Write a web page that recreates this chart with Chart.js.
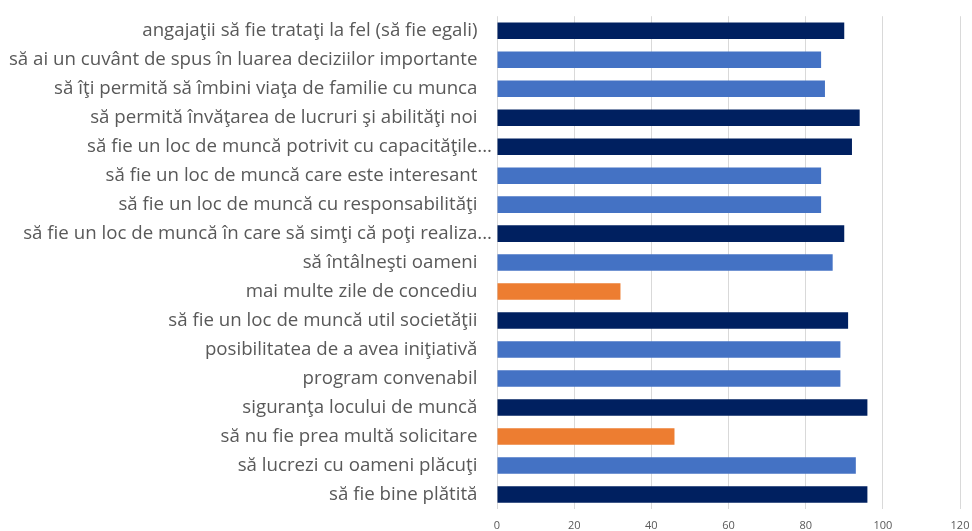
<!DOCTYPE html>
<html>
<head>
<meta charset="utf-8">
<script src="https://cdn.jsdelivr.net/npm/chart.js@4"></script>
<style>
  html, body { margin: 0; padding: 0; background: #fff; }
  #wrap { width: 972px; height: 531px; }
</style>
</head>
<body>
<div id="wrap"><canvas id="grafic"></canvas></div>
<script>
const categorii = [
  'angajaţii să fie trataţi la fel (să fie egali)   ',
  'să ai un cuvânt de spus în luarea deciziilor importante   ',
  'să îţi permită să îmbini viaţa de familie cu munca   ',
  'să permită învăţarea de lucruri şi abilităţi noi   ',
  'să fie un loc de muncă potrivit cu capacităţile...',
  'să fie un loc de muncă care este interesant   ',
  'să fie un loc de muncă cu responsabilităţi   ',
  'să fie un loc de muncă în care să simţi că poţi realiza...',
  'să întâlneşti oameni   ',
  'mai multe zile de concediu   ',
  'să fie un loc de muncă util societăţii   ',
  'posibilitatea de a avea iniţiativă   ',
  'program convenabil   ',
  'siguranţa locului de muncă   ',
  'să nu fie prea multă solicitare   ',
  'să lucrezi cu oameni plăcuţi   ',
  'să fie bine plătită   '
];
const valori = [90, 84, 85, 94, 92, 84, 84, 90, 87, 32, 91, 89, 89, 96, 46, 93, 96];
// grup: 0 = albastru închis, 1 = albastru, 2 = portocaliu
const grupe = [0, 1, 1, 0, 0, 1, 1, 0, 1, 2, 0, 1, 1, 0, 2, 1, 0];
const culori = ['#002060', '#4472C4', '#ED7D31'];
const ticksX = [0, 20, 40, 60, 80, 100, 120];

const ctx = document.getElementById('grafic').getContext('2d');
new Chart(ctx, {
  type: 'bar',
  data: {
    labels: categorii,
    datasets: [{
      data: valori,
      backgroundColor: grupe.map(g => culori[g]),
      borderWidth: 0,
      barPercentage: 0.57,
      categoryPercentage: 1
    }]
  },
  options: {
    indexAxis: 'y',
    responsive: true,
    maintainAspectRatio: false,
    animation: false,
    layout: { padding: { top: 5, right: 12, left: 0, bottom: 0 } },
    plugins: {
      legend: { display: false },
      tooltip: { enabled: false }
    },
    scales: {
      x: {
        min: ticksX[0],
        max: ticksX[ticksX.length - 1],
        afterBuildTicks: s => { s.ticks = ticksX.map(v => ({ value: v })); },
        afterFit: s => { s.height = 22; s.paddingLeft = 0; s.paddingRight = 0; },
        grid: { color: '#D9D9D9', lineWidth: 1, drawTicks: false },
        border: { display: false },
        ticks: { color: '#595959', font: { family: 'Open Sans', size: 11 }, padding: 10 }
      },
      y: {
        afterFit: s => { s.width = 497; },
        grid: { display: false, drawTicks: false },
        border: { display: false },
        ticks: { color: '#595959', font: { family: 'Open Sans', size: 18.7 }, padding: 5, autoSkip: false }
      }
    }
  }
});
</script>
</body>
</html>
